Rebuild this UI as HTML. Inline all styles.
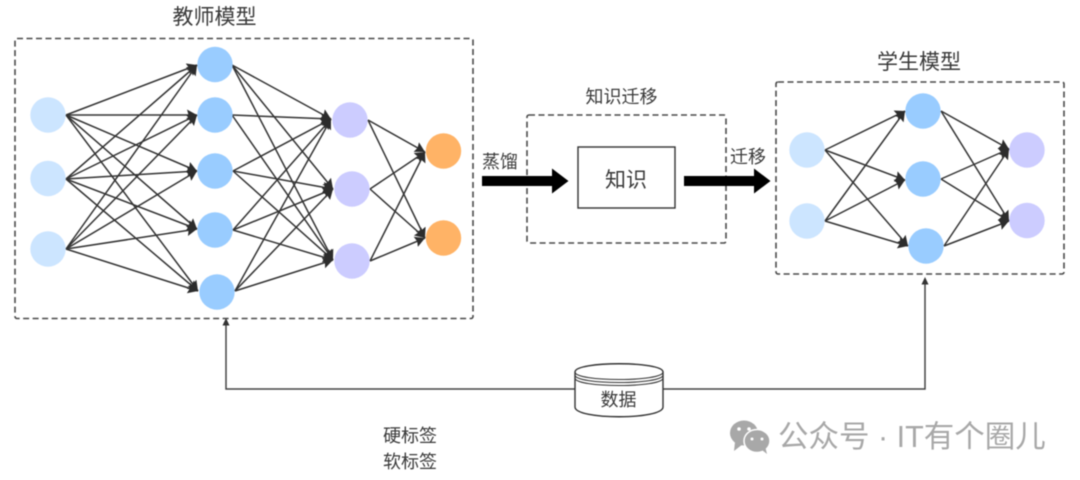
<!DOCTYPE html>
<html><head><meta charset="utf-8">
<style>
html,body{margin:0;padding:0;background:#fff;width:1080px;height:480px;overflow:hidden}
svg{display:block;filter:blur(.4px)}
text{font-family:"Liberation Sans","Noto Sans CJK SC",sans-serif;fill:#3a3a3a}
</style></head><body>
<svg width="1080" height="480" viewBox="0 0 1080 480" xmlns="http://www.w3.org/2000/svg">
<defs>
<marker id="a" markerUnits="userSpaceOnUse" markerWidth="14" markerHeight="12" refX="10" refY="5.500" orient="auto"><path d="M0 0L10 5.500L0 11L1.500 5.500Z" fill="#2c2c2c"/></marker>
</defs>
<rect width="1080" height="480" fill="#fff"/>
<g fill="none" stroke="#4a4a4a" stroke-width="1.600" stroke-dasharray="6 3.500">
<rect x="15" y="38.500" width="458" height="280" rx="2"/>
<rect x="527" y="115" width="199" height="128" rx="2"/>
<rect x="776" y="82" width="288" height="192" rx="2"/>
</g>
<g stroke="#333" stroke-width="1.500" fill="none" marker-end="url(#a)">
<line x1="66" y1="115" x2="197" y2="65"/>
<line x1="66" y1="115" x2="197" y2="115"/>
<line x1="66" y1="115" x2="197" y2="171"/>
<line x1="66" y1="115" x2="197" y2="229"/>
<line x1="66" y1="115" x2="198" y2="291"/>
<line x1="66" y1="179" x2="197" y2="65"/>
<line x1="66" y1="179" x2="197" y2="115"/>
<line x1="66" y1="179" x2="197" y2="171"/>
<line x1="66" y1="179" x2="197" y2="229"/>
<line x1="66" y1="179" x2="198" y2="291"/>
<line x1="66" y1="249" x2="197" y2="65"/>
<line x1="66" y1="249" x2="197" y2="115"/>
<line x1="66" y1="249" x2="197" y2="171"/>
<line x1="66" y1="249" x2="197" y2="229"/>
<line x1="66" y1="249" x2="198" y2="291"/>
<line x1="232" y1="65" x2="331" y2="119"/>
<line x1="232" y1="65" x2="333" y2="189"/>
<line x1="232" y1="65" x2="333" y2="260"/>
<line x1="232" y1="115" x2="331" y2="119"/>
<line x1="232" y1="115" x2="333" y2="260"/>
<line x1="233" y1="171" x2="331" y2="119"/>
<line x1="233" y1="171" x2="333" y2="189"/>
<line x1="233" y1="171" x2="333" y2="260"/>
<line x1="233" y1="230" x2="331" y2="119"/>
<line x1="233" y1="230" x2="333" y2="189"/>
<line x1="233" y1="230" x2="333" y2="260"/>
<line x1="235" y1="291" x2="331" y2="119"/>
<line x1="235" y1="291" x2="333" y2="189"/>
<line x1="235" y1="291" x2="333" y2="260"/>
<line x1="368" y1="120" x2="425" y2="152"/>
<line x1="368" y1="120" x2="425" y2="238"/>
<line x1="370" y1="189" x2="425" y2="152"/>
<line x1="370" y1="189" x2="425" y2="238"/>
<line x1="370" y1="261" x2="425" y2="152"/>
<line x1="370" y1="261" x2="425" y2="238"/>
<line x1="825" y1="150" x2="905" y2="111"/>
<line x1="825" y1="150" x2="905" y2="180"/>
<line x1="825" y1="150" x2="908" y2="246"/>
<line x1="825" y1="221" x2="905" y2="111"/>
<line x1="825" y1="221" x2="905" y2="180"/>
<line x1="825" y1="221" x2="908" y2="246"/>
<line x1="941" y1="111" x2="1009" y2="149"/>
<line x1="941" y1="111" x2="1009" y2="221"/>
<line x1="941" y1="179" x2="1009" y2="149"/>
<line x1="941" y1="179" x2="1009" y2="221"/>
<line x1="944" y1="246" x2="1009" y2="149"/>
<line x1="944" y1="246" x2="1009" y2="221"/>
</g>
<g fill="#cce5ff">
<circle cx="48" cy="115" r="17.700"/><circle cx="48" cy="178.500" r="17.700"/><circle cx="48" cy="249" r="17.700"/>
<circle cx="807" cy="150" r="17.700"/><circle cx="807" cy="221" r="17.700"/>
</g>
<g fill="#99ccff">
<circle cx="215" cy="64.500" r="17.700"/><circle cx="215" cy="115" r="17.700"/><circle cx="215" cy="171" r="17.700"/><circle cx="215" cy="230" r="17.700"/><circle cx="217" cy="292" r="17.700"/>
<circle cx="923" cy="111" r="17.700"/><circle cx="923" cy="179" r="17.700"/><circle cx="926" cy="246" r="17.700"/>
</g>
<g fill="#ccccff">
<circle cx="350" cy="120" r="17.700"/><circle cx="352" cy="189" r="17.700"/><circle cx="352" cy="261" r="17.700"/>
<circle cx="1027" cy="150" r="17.700"/><circle cx="1027" cy="220.500" r="17.700"/>
</g>
<g fill="#ffb366">
<circle cx="443.500" cy="151" r="17.700"/><circle cx="443.500" cy="238" r="17.700"/>
</g>
<rect x="578" y="147" width="97" height="61" fill="#fff" stroke="#333" stroke-width="1.400"/>
<path d="M482 176H552V168.500L568.500 181L552 193.500V186H482Z" fill="#000"/>
<path d="M684 176H754V168.500L770.500 181L754 193.500V186H684Z" fill="#000"/>
<g fill="none" stroke="#444" stroke-width="1.500">
<path d="M575 389H226V322"/>
<path d="M663 389H925V281"/>
</g>
<path d="M226 318L229.500 325.500H222.500Z" fill="#333"/>
<path d="M925 277L928.500 284.500H921.500Z" fill="#333"/>
<path d="M575 372C575 361 663 361 663 372V407C663 420 575 420 575 407Z" fill="#fff" stroke="#333" stroke-width="1.400"/>
<path d="M575 372C575 382 663 382 663 372M575 375C575 385 663 385 663 375M575 378C575 388 663 388 663 378" fill="none" stroke="#333" stroke-width="1.100"/>
<text x="214.500" y="24" font-size="21" text-anchor="middle">教师模型</text>
<text x="919" y="69" font-size="21" text-anchor="middle">学生模型</text>
<text x="621.500" y="103" font-size="18" text-anchor="middle">知识迁移</text>
<text x="500" y="168" font-size="18" text-anchor="middle">蒸馏</text>
<text x="748" y="163" font-size="18" text-anchor="middle">迁移</text>
<text x="626" y="187" font-size="21" text-anchor="middle">知识</text>
<text x="618.500" y="406" font-size="18" text-anchor="middle">数据</text>
<text x="410" y="442" font-size="18" text-anchor="middle">硬标签</text>
<text x="410" y="468" font-size="18" text-anchor="middle">软标签</text>
<g fill="#a8a8a8">
<ellipse cx="744" cy="433" rx="14" ry="12.500"/>
<path d="M735 442L734 451L743 444Z"/>
<ellipse cx="757" cy="441" rx="13" ry="11.500" stroke="#fff" stroke-width="1.500"/>
<path d="M762 450L767 454L765 446Z"/>
</g>
<g fill="#fff"><circle cx="739" cy="429" r="1.800"/><circle cx="749" cy="429" r="1.800"/><circle cx="752" cy="439" r="1.500"/><circle cx="762" cy="439" r="1.500"/></g>
<text x="778" y="447" font-size="30.500" style="fill:#a8a8a8">公众号 · IT有个圈儿</text>
</svg>
</body></html>
